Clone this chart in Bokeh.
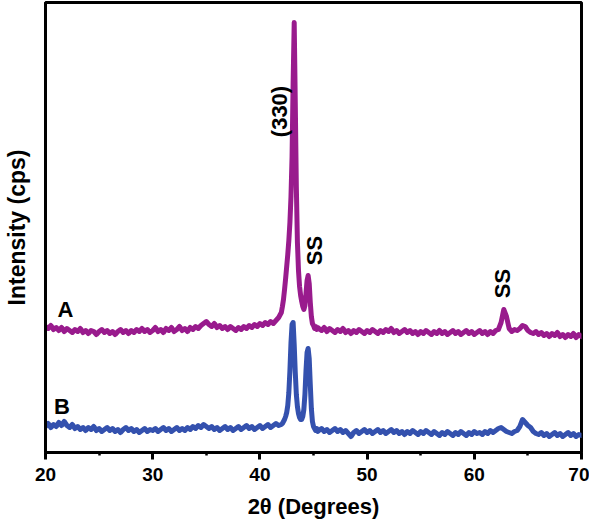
import math
from bokeh.plotting import figure
from bokeh.models import Range1d, SingleIntervalTicker, FixedTicker, ColumnDataSource
from bokeh.core.properties import value
from bokeh.embed import file_html
from bokeh.resources import INLINE

# ---------------- data ----------------
theta_low = [20.00, 20.25, 20.50, 20.75, 21.00, 21.25, 21.50, 21.75,
             22.00, 22.25, 22.50, 22.75, 23.00, 23.25, 23.50, 23.75,
             24.00, 24.25, 24.50, 24.75, 25.00, 25.25, 25.50, 25.75,
             26.00, 26.25, 26.50, 26.75, 27.00, 27.25, 27.50, 27.75,
             28.00, 28.25, 28.50, 28.75, 29.00, 29.25, 29.50, 29.75,
             30.00, 30.25, 30.50, 30.75, 31.00, 31.25, 31.50, 31.75,
             32.00, 32.25, 32.50, 32.75, 33.00, 33.25, 33.50, 33.75,
             34.00, 34.25, 34.50, 34.75, 35.00, 35.25, 35.50, 35.75,
             36.00, 36.25, 36.50, 36.75, 37.00, 37.25, 37.50, 37.75,
             38.00, 38.25, 38.50, 38.75, 39.00, 39.25, 39.50, 39.75,
             40.00, 40.25, 40.50, 40.75, 41.00, 41.25, 41.50, 41.75]
theta_peak = [42.0, 42.1, 42.2, 42.3, 42.4, 42.5, 42.6, 42.7, 42.8, 42.9,
              43.0, 43.1, 43.2, 43.3, 43.4, 43.5, 43.6, 43.7, 43.8, 43.9,
              44.0, 44.1, 44.2, 44.3, 44.4, 44.5, 44.6, 44.7, 44.8, 44.9,
              45.0, 45.1, 45.2, 45.3, 45.4]
theta_high = [45.50, 45.75,
              46.00, 46.25, 46.50, 46.75, 47.00, 47.25, 47.50, 47.75,
              48.00, 48.25, 48.50, 48.75, 49.00, 49.25, 49.50, 49.75,
              50.00, 50.25, 50.50, 50.75, 51.00, 51.25, 51.50, 51.75,
              52.00, 52.25, 52.50, 52.75, 53.00, 53.25, 53.50, 53.75,
              54.00, 54.25, 54.50, 54.75, 55.00, 55.25, 55.50, 55.75,
              56.00, 56.25, 56.50, 56.75, 57.00, 57.25, 57.50, 57.75,
              58.00, 58.25, 58.50, 58.75, 59.00, 59.25, 59.50, 59.75,
              60.00, 60.25, 60.50, 60.75, 61.00, 61.25, 61.50, 61.75,
              62.00, 62.25, 62.50, 62.75, 63.00, 63.25, 63.50, 63.75,
              64.00, 64.25, 64.50, 64.75, 65.00, 65.25, 65.50, 65.75,
              66.00, 66.25, 66.50, 66.75, 67.00, 67.25, 67.50, 67.75,
              68.00, 68.25, 68.50, 68.75, 69.00, 69.25, 69.50, 69.75,
              70.00]

a_low = [126, 124, 127, 123, 125, 122, 125, 121,
         124, 122, 120, 123, 121, 124, 120, 122,
         119, 122, 121, 118, 121, 123, 120, 122,
         119, 121, 118, 121, 123, 120, 122, 119,
         122, 120, 123, 121, 124, 121, 123, 120,
         122, 125, 121, 123, 120, 124, 122, 125,
         121, 123, 126, 122, 124, 121, 125, 123,
         126, 124, 127, 129, 131, 128, 126, 129,
         125, 127, 124, 126, 123, 126, 124, 122,
         125, 123, 126, 124, 127, 125, 128, 126,
         129, 127, 130, 128, 131, 129, 132, 135]
a_peak = [140, 146, 153, 163, 174, 186, 198, 212, 230, 256,
          296, 370, 430, 350, 265, 210, 182, 166, 157, 151,
          146, 143, 147, 159, 172, 177, 169, 150, 136, 129,
          127, 124, 126, 123, 125]
a_high = [124, 122,
          125, 121, 124, 122, 120, 123, 121, 124,
          120, 122, 119, 122, 120, 123, 121, 119,
          122, 120, 123, 121, 119, 122, 120, 123,
          121, 124, 120, 122, 119, 121, 123, 120,
          122, 119, 121, 118, 121, 119, 122, 120,
          118, 121, 119, 122, 119, 121, 118, 120,
          122, 119, 121, 118, 120, 122, 119, 121,
          118, 120, 122, 119, 121, 118, 121, 119,
          122, 123, 130, 143, 136, 124, 121, 123,
          122, 124, 127, 126, 122, 120, 119, 121,
          118, 120, 117, 119, 116, 119, 117, 120,
          116, 118, 115, 118, 116, 119, 115, 118,
          116]

b_low = [26, 29, 25, 28, 26, 30, 27, 31,
         27, 25, 28, 24, 26, 23, 25, 22,
         25, 23, 26, 22, 24, 21, 23, 25,
         22, 24, 21, 23, 20, 23, 25, 22,
         24, 21, 23, 20, 22, 24, 21, 23,
         22, 24, 21, 23, 25, 22, 24, 21,
         23, 25, 22, 24, 22, 25, 23, 26,
         24, 27, 25, 28, 26, 24, 26, 23,
         25, 22, 24, 26, 23, 25, 22, 24,
         26, 23, 25, 27, 24, 26, 23, 25,
         27, 24, 26, 28, 25, 27, 29, 27]
b_peak = [28, 29, 31, 33, 36, 40, 47, 60, 82, 110,
          128, 130, 108, 80, 58, 46, 39, 35, 33, 33,
          36, 43, 58, 82, 100, 104, 94, 68, 44, 31,
          26, 24, 22, 24, 21]
b_high = [22, 24,
          21, 23, 20, 22, 24, 21, 23, 20,
          22, 19, 16, 20, 22, 19, 21, 23,
          20, 22, 19, 21, 23, 20, 22, 19,
          21, 23, 20, 22, 19, 21, 18, 21,
          19, 22, 20, 18, 21, 19, 22, 20,
          18, 21, 19, 17, 20, 18, 21, 19,
          17, 20, 18, 21, 19, 17, 20, 18,
          21, 19, 20, 18, 21, 19, 22, 20,
          22, 24, 25, 23, 21, 20, 19, 21,
          22, 26, 33, 30, 27, 25, 21, 19,
          18, 20, 17, 19, 16, 18, 20, 17,
          19, 16, 18, 20, 17, 19, 16, 18,
          17]

two_theta = theta_low + theta_peak + theta_high
intensity_a = a_low + a_peak + a_high
intensity_b = b_low + b_peak + b_high

x_ticks_interval = 10

note_text = ["A", "B", "(330)", "SS", "SS"]
note_x = [21.87, 21.54, 41.8, 45.1, 62.6]
note_y = [143, 46, 341, 202, 169]
note_rot = [0, 0, 90, 90, 90]

# ---------------- figure ----------------
FONT = "Liberation Sans"
p = figure(frame_width=536, frame_height=450,
           x_range=Range1d(20, 70), y_range=Range1d(0, 450),
           output_backend="svg", toolbar_location=None,
           min_border_left=44, min_border_top=2, min_border_right=8,
           min_border_bottom=0, background_fill_color="white",
           border_fill_color="white")
p.xgrid.visible = False
p.ygrid.visible = False
p.outline_line_color = "black"
p.outline_line_width = 3
p.outline_line_alpha = 1

p.line(two_theta, intensity_a, line_color="#991b8d", line_width=5,
       line_join="round", line_cap="round")
p.line(two_theta, intensity_b, line_color="#3451ae", line_width=5,
       line_join="round", line_cap="round")

src = ColumnDataSource(dict(t=note_text, x=note_x, y=note_y,
                            a=[math.radians(r) for r in note_rot]))
p.text(x="x", y="y", text="t", angle="a", source=src,
       text_font=value(FONT), text_font_style="bold",
       text_font_size="22px", text_color="black",
       text_align="center", text_baseline="middle")

xa = p.xaxis[0]
xa.ticker = SingleIntervalTicker(interval=x_ticks_interval, num_minor_ticks=2)
xa.axis_line_width = 3
xa.axis_line_color = "black"
xa.major_tick_in = 0
xa.major_tick_out = 7
xa.major_tick_line_width = 3
xa.minor_tick_in = 0
xa.minor_tick_out = 3
xa.minor_tick_line_width = 2.5
xa.major_label_text_font = FONT
xa.major_label_text_font_style = "bold"
xa.major_label_text_font_size = "19px"
xa.major_label_text_color = "black"
xa.major_label_standoff = 8
xa.axis_label = "2θ (Degrees)"
xa.axis_label_text_font = FONT
xa.axis_label_text_font_style = "bold"
xa.axis_label_text_font_size = "22px"
xa.axis_label_text_color = "black"
xa.axis_label_standoff = 10

ya = p.yaxis[0]
ya.ticker = FixedTicker(ticks=[])
ya.axis_line_width = 3
ya.axis_line_color = "black"
ya.major_tick_in = 0
ya.major_tick_out = 0
ya.minor_tick_in = 0
ya.minor_tick_out = 0
ya.major_label_standoff = 0
ya.axis_label = "Intensity (cps)"
ya.axis_label_text_font = FONT
ya.axis_label_text_font_style = "bold"
ya.axis_label_text_font_size = "23px"
ya.axis_label_text_color = "black"
ya.axis_label_standoff = 16

open("out.html", "w").write(file_html(p, INLINE))
